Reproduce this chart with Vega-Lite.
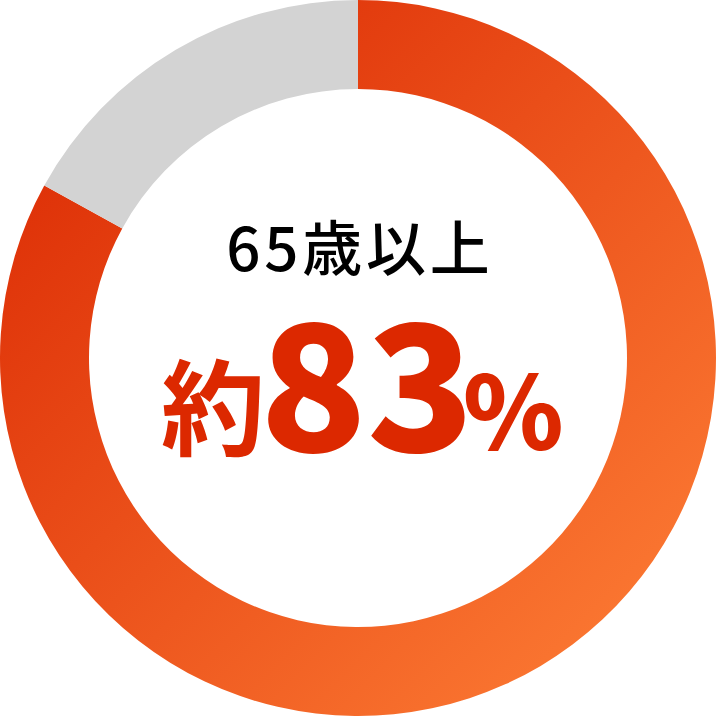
{
  "$schema": "https://vega.github.io/schema/vega-lite/v6.json",
  "width": 716,
  "height": 716,
  "autosize": {"type": "fit", "contains": "padding"},
  "padding": 0,
  "background": "white",
  "view": {"stroke": null},
  "layer": [
    {
      "data": {"values": [
        {"group": "65歳以上", "share": 83},
        {"group": "65歳未満", "share": 17}
      ]},
      "mark": {"type": "arc", "outerRadius": 358, "innerRadius": 269, "stroke": null},
      "encoding": {
        "theta": {"field": "share", "type": "quantitative", "stack": true},
        "order": {"field": "share", "type": "quantitative", "sort": "descending"},
        "fill": {
          "condition": {"test": "datum.group === '65歳未満'", "value": "#D3D3D3"},
          "value": {
            "gradient": "linear",
            "x1": 0, "y1": 0, "x2": 1, "y2": 1,
            "stops": [
              {"offset": 0, "color": "#D92400"},
              {"offset": 1, "color": "#FF8238"}
            ]
          }
        }
      }
    },
    {
      "data": {"values": [{"label": "6\u200a5\u200a歳\u200a以\u200a上"}]},
      "mark": {"type": "text", "font": "Noto Sans CJK JP", "fontSize": 60, "fontWeight": 500, "color": "#000000", "align": "center", "baseline": "alphabetic", "dx": 0, "dy": -87},
      "encoding": {"text": {"field": "label", "type": "nominal"}}
    },
    {
      "data": {"values": [{"label": "約"}]},
      "mark": {"type": "text", "font": "Noto Sans CJK JP", "fontSize": 104, "fontWeight": "bold", "color": "#DC2800", "align": "right", "baseline": "alphabetic", "dx": -93, "dy": 90},
      "encoding": {"text": {"field": "label", "type": "nominal"}}
    },
    {
      "data": {"values": [{"label": "83"}]},
      "mark": {"type": "text", "font": "Noto Sans CJK JP", "fontSize": 176, "fontWeight": 900, "color": "#DC2800", "align": "center", "baseline": "alphabetic", "dx": 9, "dy": 94},
      "encoding": {"text": {"field": "label", "type": "nominal"}}
    },
    {
      "data": {"values": [{"label": "%"}]},
      "mark": {"type": "text", "font": "Noto Sans CJK JP", "fontSize": 102, "fontWeight": 900, "color": "#DC2800", "align": "left", "baseline": "alphabetic", "dx": 105, "dy": 92},
      "encoding": {"text": {"field": "label", "type": "nominal"}}
    }
  ]
}
